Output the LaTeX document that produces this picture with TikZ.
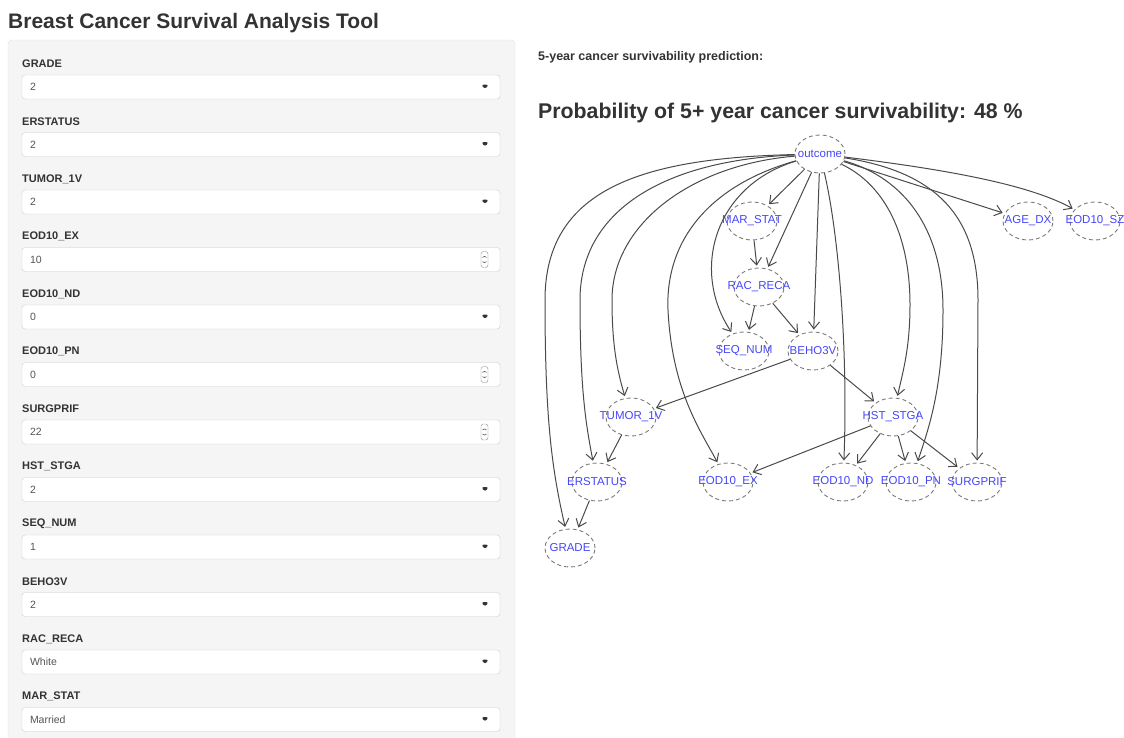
\documentclass[tikz,border=0pt]{standalone}
\usepackage{fontspec}
\setmainfont{Liberation Sans}
\usepackage{tikz}
\usetikzlibrary{arrows.meta, shapes.geometric, positioning}
\definecolor{panelgray}{HTML}{F5F5F5}
\definecolor{panelline}{HTML}{E3E3E3}
\definecolor{boxline}{HTML}{CCCCCC}
\definecolor{labeltext}{HTML}{333333}
\definecolor{valuetext}{HTML}{555555}
\definecolor{edgegray}{HTML}{4A4A4A}
\definecolor{nodeline}{HTML}{7A7A7A}
\definecolor{nodeblue}{RGB}{70,70,250}

\begin{document}
\begin{tikzpicture}[x=1pt, y=-1pt,
    field/.style={draw=boxline, fill=white, rounded corners=3pt, minimum width=478pt, minimum height=24pt, inner sep=0pt},
    selectfield/.style={field, path picture={
        \fill[labeltext] ([shift={(-19pt,2.5pt)}]path picture bounding box.east) -- ++(8pt,0pt) -- ++(-4pt,-5pt) -- cycle;}},
    numfield/.style={field, path picture={
        \draw[boxline!70!black, line width=0.4pt, rounded corners=2.5pt] ([shift={(-19pt,-8pt)}]path picture bounding box.east) rectangle ([shift={(-12pt,8pt)}]path picture bounding box.east);
        \draw[valuetext, line width=0.6pt] ([shift={(-17.5pt,2pt)}]path picture bounding box.east) -- ++(2pt,2.5pt) -- ++(2pt,-2.5pt);
        \draw[valuetext, line width=0.6pt] ([shift={(-17.5pt,-2pt)}]path picture bounding box.east) -- ++(2pt,-2.5pt) -- ++(2pt,2.5pt);}},
    heading/.style={anchor=base west, text=labeltext, inner sep=0pt},
    fieldlabel/.style={anchor=west, font=\fontsize{11}{13}\selectfont\bfseries, text=labeltext, inner sep=0pt},
    fieldvalue/.style={anchor=west, font=\fontsize{10.5}{12}\selectfont, text=valuetext, inner sep=0pt},
    var/.style={ellipse, draw=nodeline, dash pattern=on 4pt off 3pt, line width=0.9pt, minimum width=50pt, minimum height=38pt, inner sep=0pt},
    varname/.style={font=\fontsize{11.5}{13}\selectfont, text=nodeblue, inner sep=0pt},
    edge/.style={draw=edgegray, line width=1pt, -{Straight Barb[length=7pt, width=11pt]}, shorten >=2pt},
]
\useasboundingbox (0,0) rectangle (1124,737);
\fill[white] (0,0) rectangle (1124,737);
\clip (0,0) rectangle (1124,737);

% headings
\node[heading, font=\fontsize{21}{25}\selectfont\bfseries] (title) at (8,28) {Breast Cancer Survival Analysis Tool};
\node[heading, font=\fontsize{12.5}{15}\selectfont\bfseries] (pred) at (538,60) {5-year cancer survivability prediction:};
\node[heading, font=\fontsize{21.3}{26}\selectfont\bfseries] (prob) at (538,118) {Probability of 5+ year cancer survivability: 48 \%};

% input panel
\draw[draw=panelline, fill=panelgray, rounded corners=4pt] (8,40) rectangle (515,760);

\node[fieldlabel] (lgrade) at (22,64) {GRADE};
\node[selectfield] (fgrade) at (261,87) {};
\node[fieldvalue] (vgrade) at ([xshift=8pt]fgrade.west) {2};

\node[fieldlabel] (lerstatus) at (22,121.5) {ERSTATUS};
\node[selectfield] (ferstatus) at (261,144.5) {};
\node[fieldvalue] (verstatus) at ([xshift=8pt]ferstatus.west) {2};

\node[fieldlabel] (ltumor) at (22,179) {TUMOR\_1V};
\node[selectfield] (ftumor) at (261,202) {};
\node[fieldvalue] (vtumor) at ([xshift=8pt]ftumor.west) {2};

\node[fieldlabel] (lex) at (22,236.5) {EOD10\_EX};
\node[numfield] (fex) at (261,259.5) {};
\node[fieldvalue] (vex) at ([xshift=8pt]fex.west) {10};

\node[fieldlabel] (lnd) at (22,294) {EOD10\_ND};
\node[selectfield] (fnd) at (261,317) {};
\node[fieldvalue] (vnd) at ([xshift=8pt]fnd.west) {0};

\node[fieldlabel] (lpn) at (22,351.5) {EOD10\_PN};
\node[numfield] (fpn) at (261,374.5) {};
\node[fieldvalue] (vpn) at ([xshift=8pt]fpn.west) {0};

\node[fieldlabel] (lsurg) at (22,409) {SURGPRIF};
\node[numfield] (fsurg) at (261,432) {};
\node[fieldvalue] (vsurg) at ([xshift=8pt]fsurg.west) {22};

\node[fieldlabel] (lhst) at (22,466.5) {HST\_STGA};
\node[selectfield] (fhst) at (261,489.5) {};
\node[fieldvalue] (vhst) at ([xshift=8pt]fhst.west) {2};

\node[fieldlabel] (lseq) at (22,524) {SEQ\_NUM};
\node[selectfield] (fseq) at (261,547) {};
\node[fieldvalue] (vseq) at ([xshift=8pt]fseq.west) {1};

\node[fieldlabel] (lbeho) at (22,581.5) {BEHO3V};
\node[selectfield] (fbeho) at (261,604.5) {};
\node[fieldvalue] (vbeho) at ([xshift=8pt]fbeho.west) {2};

\node[fieldlabel] (lrac) at (22,639) {RAC\_RECA};
\node[selectfield] (frac) at (261,662) {};
\node[fieldvalue] (vrac) at ([xshift=8pt]frac.west) {White};

\node[fieldlabel] (lmar) at (22,696.5) {MAR\_STAT};
\node[selectfield] (fmar) at (261,719.5) {};
\node[fieldvalue] (vmar) at ([xshift=8pt]fmar.west) {Married};

% network
\node[var, label={[varname]center:outcome}] (outcome) at (820,154) {};
\node[var, label={[varname]center:MAR\_STAT}] (mar) at (752,221) {};
\node[var, label={[varname]center:RAC\_RECA}] (rac) at (759,287) {};
\node[var, label={[varname]center:SEQ\_NUM}] (seq) at (744,351) {};
\node[var, label={[varname]center:BEHO3V}] (beho) at (813,351) {};
\node[var, label={[varname]center:TUMOR\_1V}] (tumor) at (631,417) {};
\node[var, label={[varname]center:HST\_STGA}] (hst) at (893,417) {};
\node[var, label={[varname]center:ERSTATUS}] (er) at (597,482) {};
\node[var, label={[varname]center:EOD10\_EX}] (ex) at (728,482) {};
\node[var, label={[varname]center:EOD10\_ND}] (nd) at (843,482) {};
\node[var, label={[varname]center:EOD10\_PN}] (pn) at (911,482) {};
\node[var, label={[varname]center:SURGPRIF}] (surg) at (977,482) {};
\node[var, label={[varname]center:GRADE}] (grade) at (570,548) {};
\node[var, label={[varname]center:AGE\_DX}] (age) at (1028,221) {};
\node[var, label={[varname]center:EOD10\_SZ}] (sz) at (1095,221) {};

\draw[edge] (outcome) -- (mar);
\draw[edge] (outcome) -- (rac);
\draw[edge] (mar) -- (rac);
\draw[edge] (rac) -- (seq);
\draw[edge] (rac) -- (beho);
\draw[edge] (outcome) -- (beho);
\draw[edge] (beho) -- (tumor);
\draw[edge] (beho) -- (hst);
\draw[edge] (tumor) -- (er);
\draw[edge] (er) -- (grade);
\draw[edge] (hst) -- (ex);
\draw[edge] (hst) -- (nd);
\draw[edge] (hst) -- (pn);
\draw[edge] (hst) -- (surg);
\draw[edge] (outcome) -- (age);
\draw[edge] (outcome) .. controls (950,170) and (1030,185) .. (sz);
\draw[edge] (outcome) .. controls (640,158) and (545,190) .. (545,300) .. controls (545,420) and (552,470) .. (grade);
\draw[edge] (outcome) .. controls (665,160) and (580,210) .. (580,300) .. controls (580,390) and (586,425) .. (er);
\draw[edge] (outcome) .. controls (690,165) and (612,225) .. (612,300) .. controls (612,345) and (617,370) .. (tumor);
\draw[edge] (outcome) .. controls (710,185) and (665,240) .. (668,310) .. controls (672,390) and (700,430) .. (ex);
\draw[edge] (outcome) .. controls (715,185) and (690,270) .. (seq);
\draw[edge] (outcome) .. controls (840,240) and (848,360) .. (nd);
\draw[edge] (outcome) .. controls (885,185) and (910,235) .. (910,305) .. controls (910,350) and (902,375) .. (hst);
\draw[edge] (outcome) .. controls (905,178) and (943,230) .. (943,310) .. controls (943,390) and (928,430) .. (pn);
\draw[edge] (outcome) .. controls (935,172) and (978,215) .. (978,300) -- (surg);
\end{tikzpicture}
\end{document}
